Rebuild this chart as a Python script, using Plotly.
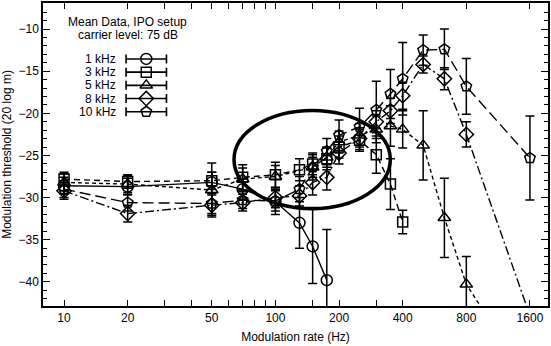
import plotly.graph_objects as go

# ---------------- data ----------------
f_1k = [10, 20, 50, 70, 100, 130, 150, 175]
y_1k = [-28.6, -28.7, -28.2, -29.0, -30.5, -33.0, -35.8, -39.8]
e_1k = [1.0, 1.0, 1.2, 1.2, 1.5, 3.0, 4.4, 6.0]

f_3k = [10, 20, 50, 70, 100, 130, 150, 175, 200, 250, 300, 350, 400]
y_3k = [-27.8, -28.1, -28.0, -27.6, -27.3, -26.7, -26.0, -25.4, -24.0, -23.2, -24.9, -28.4, -32.9]
e_3k = [0.8, 0.8, 1.0, 1.5, 1.5, 1.3, 1.3, 1.3, 1.3, 1.3, 2.2, 3.0, 1.4]

f_5k = [10, 20, 50, 70, 100, 150, 175, 200, 250, 300, 350, 400, 500, 630, 800, 1600]
y_5k = [-28.2, -28.4, -29.1, -27.8, -27.5, -26.4, -25.2, -23.4, -22.6, -21.9, -21.5, -21.9, -23.8, -32.4, -40.3, -52.0]
e_5k = [1.0, 1.0, 3.2, 1.3, 1.3, 1.2, 1.2, 1.3, 1.4, 1.6, 2.4, 2.2, 4.1, 4.7, 3.3, 3.0]

f_8k = [10, 20, 50, 70, 100, 130, 150, 175, 200, 250, 300, 350, 400, 500, 630, 800, 1600]
y_8k = [-29.2, -31.9, -30.9, -30.6, -30.0, -29.8, -28.2, -27.6, -24.7, -23.0, -21.0, -19.7, -17.9, -14.2, -15.9, -22.5, -44.0]
e_8k = [1.0, 1.0, 1.2, 1.0, 1.2, 1.2, 1.5, 1.5, 1.3, 1.3, 1.3, 1.5, 1.6, 1.0, 1.3, 1.5, 1.0]

f_10k = [10, 20, 50, 70, 100, 130, 150, 175, 200, 250, 300, 350, 400, 500, 630, 800, 1600]
y_10k = [-29.0, -30.6, -30.7, -30.3, -30.4, -29.0, -26.4, -24.5, -22.6, -21.6, -19.6, -17.7, -15.9, -12.5, -12.4, -16.8, -25.3]
e_10k = [1.0, 1.0, 1.2, 1.0, 1.2, 1.5, 1.5, 1.5, 1.8, 2.2, 3.4, 2.9, 4.3, 1.8, 2.4, 3.3, 5.0]

series_names = ["1 kHz", "3 kHz", "5 kHz", "8 kHz", "10 kHz"]
x_tick_vals = [10, 20, 50, 100, 200, 400, 800, 1600]
x_tick_text = ["10", "20", "50", "100", "200", "400", "800", "1600"]
x_minor_vals = [30, 40, 60, 70, 80, 90, 150, 300]
y_tick_vals = [-40, -35, -30, -25, -20, -15, -10]

header_lines = ["Mean Data, IPO setup", "carrier level: 75 dB"]

# ---------------- styles ----------------
FONT = "Liberation Sans, Arial, Helvetica, sans-serif"
symbols = ["circle-open", "square-open", "triangle-up-open", "diamond-open", "pentagon-open"]
dashes = ["solid", "6px,4px", "4px,3px", "9px,3px,2px,3px", "11px,5px"]
sizes = [11, 10, 11, 11, 11]

data = [(f_1k, y_1k, e_1k), (f_3k, y_3k, e_3k), (f_5k, y_5k, e_5k),
        (f_8k, y_8k, e_8k), (f_10k, y_10k, e_10k)]

fig = go.Figure()

for (fx, fy, fe), name, sym, dsh, sz in zip(data, series_names, symbols, dashes, sizes):
    fig.add_trace(go.Scatter(
        x=fx, y=fy, mode="lines+markers", name=name,
        line=dict(color="black", width=1.4, dash=dsh),
        marker=dict(symbol=sym, size=sz, color="black", line=dict(width=1.5, color="black")),
        error_y=dict(type="data", array=fe, visible=True, color="black", thickness=1.5, width=4.5),
        showlegend=False,
    ))

# ---------------- custom legend (on hidden overlay axes, range 0..1) ----------------
leg_x = 0.2045
leg_y0 = 0.8154
leg_dy = 0.0436
for i, (name, sym, sz) in enumerate(zip(series_names, symbols, sizes)):
    yy = leg_y0 - i * leg_dy
    fig.add_trace(go.Scatter(
        x=[leg_x], y=[yy], mode="markers", xaxis="x2", yaxis="y2",
        marker=dict(symbol=sym, size=sz, color="black", line=dict(width=1.5, color="black")),
        error_x=dict(type="constant", value=0.04, visible=True, color="black", thickness=1.6, width=4.5),
        showlegend=False, hoverinfo="skip",
    ))
    fig.add_annotation(x=0.149, y=yy, xref="paper", yref="paper", text=name,
                       showarrow=False, xanchor="right", yanchor="middle",
                       font=dict(size=12, family=FONT, color="black"))

fig.add_annotation(x=0.1677, y=0.936, xref="paper", yref="paper", text=header_lines[0],
                   showarrow=False, xanchor="center", yanchor="middle",
                   font=dict(size=12, family=FONT, color="black"))
fig.add_annotation(x=0.1677, y=0.893, xref="paper", yref="paper", text=header_lines[1],
                   showarrow=False, xanchor="center", yanchor="middle",
                   font=dict(size=12, family=FONT, color="black"))

# ---------------- highlight ellipse (data values on the log x axis) ----------------
fig.add_shape(type="circle", xref="x", yref="y",
              x0=63.7, x1=349.5, y0=-31.3, y1=-19.65,
              line=dict(color="black", width=3.5))

axis_common = dict(showline=True, linecolor="black", linewidth=1.5, mirror="allticks",
                   ticks="inside", tickcolor="black", tickwidth=1.3, showgrid=False,
                   zeroline=False, tickfont=dict(size=12, family=FONT, color="black"))

fig.update_layout(
    width=551, height=346,
    margin=dict(l=43, r=1, t=1, b=40),
    paper_bgcolor="white", plot_bgcolor="white",
    font=dict(family=FONT, size=12, color="black"),
    xaxis=dict(type="log", range=[0.9005, 3.2895],
               tickmode="array", tickvals=x_tick_vals, ticktext=x_tick_text, ticklen=6,
               minor=dict(tickmode="array", tickvals=x_minor_vals, ticks="inside", ticklen=6,
                          tickcolor="black", tickwidth=1.3),
               title=dict(text="Modulation rate (Hz)", font=dict(size=12, family=FONT), standoff=8),
               **axis_common),
    yaxis=dict(range=[-42.87, -6.90], tickmode="array", tickvals=y_tick_vals, ticklen=7,
               minor=dict(dtick=1, ticks="inside", ticklen=4, tickcolor="black", tickwidth=1.2),
               title=dict(text="Modulation threshold (20 log m)", font=dict(size=12, family=FONT), standoff=4),
               **axis_common),
    xaxis2=dict(overlaying="x", range=[0, 1], visible=False),
    yaxis2=dict(overlaying="y", range=[0, 1], visible=False),
)

fig.write_html("out.html")
